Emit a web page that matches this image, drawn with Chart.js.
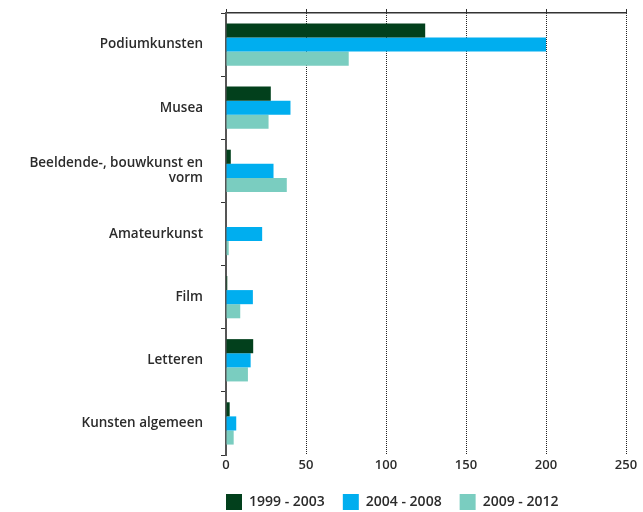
<!DOCTYPE html>
<html>
<head>
<meta charset="utf-8">
<script src="https://cdn.jsdelivr.net/npm/chart.js@4"></script>
<style>
    html, body { margin: 0; padding: 0; background: #fff; }
    #wrap { width: 643px; height: 512px; }
</style>
</head>
<body>
<div id="wrap"><canvas id="kunstChart"></canvas></div>
<script>
// Categories and series
const categories = [
    'Podiumkunsten',
    'Musea',
    ['Beeldende-, bouwkunst en', 'vorm'],
    'Amateurkunst',
    'Film',
    'Letteren',
    'Kunsten algemeen'
];
const periods = ['1999 - 2003', '2004 - 2008', '2009 - 2012'];
const values1999 = [124.5, 28, 3, 0, 0.8, 17, 2.3];
const values2004 = [200, 40.3, 29.7, 22.6, 16.8, 15.4, 6.4];
const values2009 = [76.7, 26.6, 38, 1.7, 8.9, 13.7, 4.8];
const xTicks = [0, 50, 100, 150, 200, 250];

const colors = ['#02401c', '#00aeef', '#7acdc0'];
const fontFamily = '"Open Sans", "Noto Sans", sans-serif';
const textColor = '#2b2b2b';
const axisColor = '#555';

// Start the legend at the left edge of the plot area
const legendAlign = {
    id: 'legendAlign',
    afterLayout(chart) {
        const legend = chart.legend;
        if (legend) {
            legend.left = chart.chartArea.left - legend.options.labels.padding;
        }
    }
};

const ctx = document.getElementById('kunstChart');
new Chart(ctx, {
    type: 'bar',
    data: {
        labels: categories,
        datasets: [values1999, values2004, values2009].map((vals, i) => ({
            label: periods[i],
            data: vals,
            backgroundColor: colors[i],
            borderWidth: 0,
            categoryPercentage: 0.67,
            barPercentage: 1.0
        }))
    },
    options: {
        indexAxis: 'y',
        responsive: true,
        maintainAspectRatio: false,
        animation: false,
        layout: { padding: { top: 9, right: 17, bottom: -8, left: 0 } },
        plugins: {
            tooltip: { enabled: false },
            legend: {
                position: 'bottom',
                align: 'start',
                labels: {
                    boxWidth: 16,
                    boxHeight: 16,
                    padding: 18,
                    color: textColor,
                    font: { family: fontFamily, size: 14, weight: '600' }
                }
            }
        },
        scales: {
            x: {
                position: 'bottom',
                min: 0,
                max: 250,
                afterBuildTicks: scale => { scale.ticks = xTicks.map(v => ({ value: v })); },
                afterFit: scale => { scale.height = 21; },
                border: { display: false, dash: [1, 1] },
                grid: {
                    color: c => c.tick && c.tick.value === 0 ? 'rgba(0,0,0,0)' : '#222',
                    lineWidth: 1,
                    drawTicks: false
                },
                ticks: {
                    padding: 2,
                    color: textColor,
                    font: { family: fontFamily, size: 13, weight: '600' }
                }
            },
            xTop: {
                axis: 'x',
                position: 'top',
                min: 0,
                max: 250,
                afterBuildTicks: scale => { scale.ticks = xTicks.map(v => ({ value: v })); },
                afterFit: scale => { scale.height = 4; },
                border: { display: true, color: '#333', width: 1.5 },
                grid: {
                    drawOnChartArea: false,
                    drawTicks: true,
                    tickLength: 4,
                    color: '#333'
                },
                ticks: { display: false }
            },
            y: {
                position: 'left',
                afterFit: scale => {
                    scale.width = 226;
                    scale.paddingTop = 0;
                    scale.paddingBottom = 0;
                },
                border: { display: true, color: axisColor, width: 2 },
                grid: {
                    offset: true,
                    drawOnChartArea: false,
                    drawTicks: true,
                    tickLength: 5,
                    color: '#333'
                },
                ticks: {
                    padding: 18,
                    color: textColor,
                    font: { family: fontFamily, size: 13.5, weight: '600', lineHeight: 1.1 }
                }
            }
        }
    },
    plugins: [legendAlign]
});
</script>
</body>
</html>
